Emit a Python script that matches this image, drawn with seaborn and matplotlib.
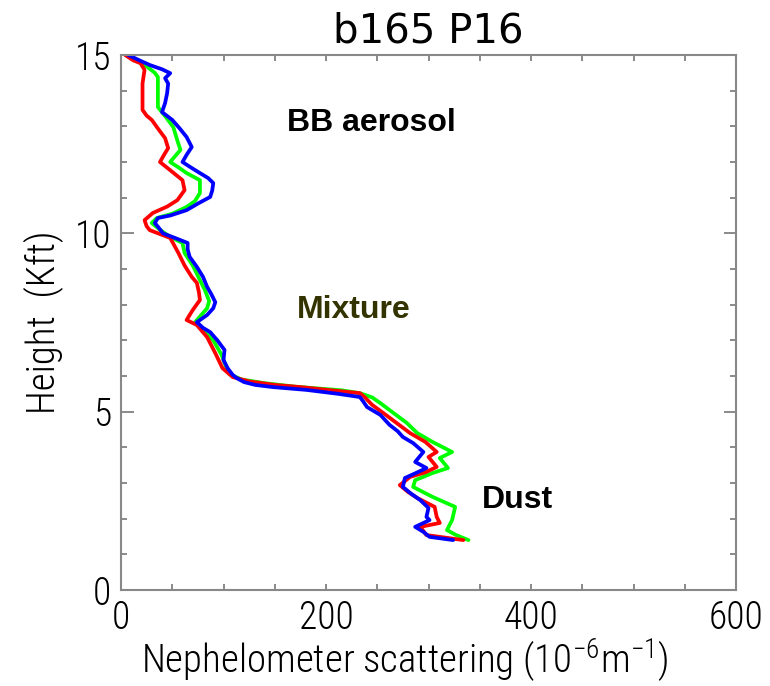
import matplotlib
matplotlib.use("Agg")
import matplotlib.pyplot as plt
import seaborn as sns
import pandas as pd
from matplotlib.ticker import MultipleLocator

# ---- data (height in Kft, scattering in 1e-6 m^-1) ----
blue_h = [15.0, 14.85, 14.72, 14.6, 14.49, 14.35, 14.2, 13.93, 13.65, 13.4, 13.18, 12.95, 12.7, 12.42,
          12.2, 12.0, 11.85, 11.69, 11.55, 11.41, 11.2, 11.02, 10.85, 10.65, 10.5, 10.43, 10.29, 10.15,
          10.0, 9.81, 9.73, 9.55, 9.34, 9.06, 8.78, 8.5, 8.3, 8.07, 7.9, 7.71, 7.51, 7.35, 7.23, 7.0,
          6.73, 6.45, 6.22, 6.03, 5.94, 5.83, 5.75, 5.69, 5.61, 5.5, 5.41, 5.3, 5.13, 4.91, 4.63, 4.45,
          4.29, 4.12, 3.87, 3.59, 3.42, 3.31, 3.14, 2.89, 2.7, 2.52, 2.3, 2.05, 1.96, 1.77, 1.63, 1.49, 1.4]
blue_v = [7, 18, 28, 40, 48, 43, 46, 45, 43, 40, 50, 57, 64, 69,
          64, 60, 68, 77, 85, 90, 89, 87, 76, 64, 48, 36, 33, 37,
          41, 58, 65, 65, 67, 74, 80, 84, 88, 92, 90, 84, 74, 80, 87, 94,
          101, 100, 104, 109, 113, 120, 131, 148, 181, 212, 233, 236, 240, 253, 262, 270,
          275, 285, 295, 287, 298, 290, 277, 275, 283, 292, 300, 298, 301, 287, 295, 301, 324]

red_h = [15.0, 14.85, 14.77, 14.58, 14.4, 14.2, 13.8, 13.46, 13.3, 13.18, 12.9, 12.67, 12.39, 12.2,
         12.0, 11.77, 11.49, 11.21, 10.93, 10.75, 10.57, 10.37, 10.2, 10.09, 9.87, 9.45, 9.1, 8.78,
         8.61, 8.35, 8.13, 7.85, 7.57, 7.43, 7.09, 6.64, 6.22, 5.97, 5.85, 5.75, 5.69, 5.6, 5.52, 5.4,
         5.19, 4.96, 4.68, 4.4, 4.15, 3.87, 3.73, 3.45, 3.3, 3.17, 2.94, 2.75, 2.58, 2.33, 2.05, 1.88,
         1.77, 1.54, 1.4]
red_v = [4, 12, 19, 23, 22, 21, 21, 21, 25, 30, 37, 43, 46, 42,
         38, 48, 60, 62, 55, 45, 31, 23, 25, 28, 48, 56, 62, 69,
         74, 76, 77, 70, 64, 74, 84, 92, 99, 109, 125, 150, 175, 205, 233, 238,
         245, 256, 269, 282, 297, 308, 300, 308, 297, 282, 272, 280, 289, 306, 308, 311,
         292, 298, 334]

green_h = [15.0, 14.85, 14.66, 14.5, 14.38, 14.0, 13.54, 13.25, 12.98, 12.6, 12.34, 12.0, 11.85, 11.69,
           11.49, 11.13, 10.9, 10.74, 10.55, 10.43, 10.29, 10.1, 9.9, 9.73, 9.45, 9.1, 8.69, 8.4,
           8.1, 7.9, 7.7, 7.5, 7.3, 7.0, 6.6, 6.3, 6.05, 5.9, 5.8, 5.7, 5.6, 5.52, 5.4, 5.24,
           4.96, 4.68, 4.4, 4.15, 3.87, 3.7, 3.42, 3.28, 3.08, 2.89, 2.61, 2.33, 1.96, 1.68, 1.54, 1.4]
green_v = [6, 15, 26, 33, 36, 36, 36, 44, 51, 55, 58, 48, 56, 64,
           77, 77, 72, 64, 50, 35, 30, 38, 48, 60, 62, 70, 77, 82,
           86, 84, 78, 72, 80, 90, 98, 102, 106, 118, 140, 170, 215, 233, 245, 253,
           266, 279, 289, 304, 323, 311, 319, 304, 287, 285, 304, 326, 323, 318, 327, 339]

title = "b165 P16"
xlabel = "Nephelometer scattering (10$^{-6}$m$^{-1}$)"
ylabel = "Height  (Kft)"
xticks = [0, 200, 400, 600]
yticks = [0, 5, 10, 15]
annotations = [("BB aerosol", 244, 13.1, "black"),
               ("Mixture", 227, 7.85, "#333300"),
               ("Dust", 387, 2.52, "black")]

sns.set_style("white")
narrow = ["Roboto Condensed", "DejaVu Sans"]
plt.rcParams["font.family"] = narrow
plt.rcParams["font.weight"] = "light"
plt.rcParams["mathtext.fontset"] = "custom"
plt.rcParams["mathtext.rm"] = "Roboto Condensed:light"
plt.rcParams["mathtext.default"] = "regular"
plt.rcParams["text.color"] = "black"
plt.rcParams["axes.labelcolor"] = "black"
plt.rcParams["axes.labelweight"] = "light"
plt.rcParams["xtick.labelcolor"] = "black"
plt.rcParams["ytick.labelcolor"] = "black"

fig = plt.figure(figsize=(7.7, 6.86), dpi=100)
ax = fig.add_axes([121 / 770, 96 / 686, 615 / 770, 535 / 686])

series = [("green", green_v, green_h, "#00ff00"),
          ("red", red_v, red_h, "#ff0000"),
          ("blue", blue_v, blue_h, "#0000ff")]
for name, v, h, c in series:
    df = pd.DataFrame({"scat": v, "height": h})
    sns.lineplot(data=df, x="scat", y="height", sort=False, estimator=None,
                 color=c, linewidth=2.7, ax=ax)

ax.set_xlim(0, 600)
ax.set_ylim(0, 15)
ax.set_xticks(xticks)
ax.set_yticks(yticks)
ax.xaxis.set_minor_locator(MultipleLocator(50))
ax.yaxis.set_minor_locator(MultipleLocator(1))
ax.tick_params(axis="both", which="both", direction="in", top=True, right=True,
               bottom=True, left=True, color="#777777", width=1.2)
ax.tick_params(axis="x", which="both", length=4)
ax.tick_params(axis="y", which="major", length=9)
ax.tick_params(axis="y", which="minor", length=4.5)
ax.tick_params(axis="both", which="major", labelsize=27, pad=7)
for sp in ax.spines.values():
    sp.set_color("#888888")
    sp.set_linewidth(1.5)

ax.set_xlabel(xlabel, fontsize=28, fontweight="light")
ax.xaxis.set_label_coords(0.462, -0.088)
ax.set_ylabel(ylabel, fontsize=28, labelpad=8, fontweight="light")
ax.set_title(title, fontsize=29, pad=9, family=["DejaVu Sans"], color="black",
             fontweight="normal")

for txt, x, y, col in annotations:
    ax.text(x, y, txt, ha="center", va="center", fontsize=23, fontweight="bold",
            color=col, family=["Liberation Sans", "DejaVu Sans"])

fig.savefig("out.png", dpi=100)
